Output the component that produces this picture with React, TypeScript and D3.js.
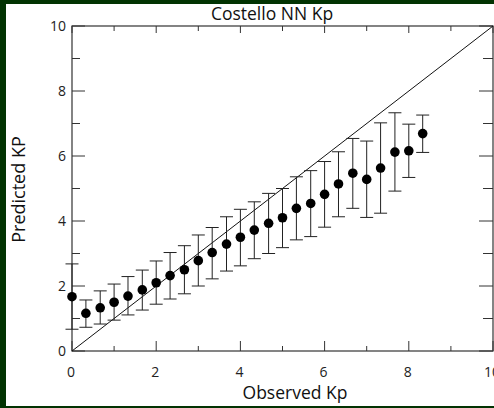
import React from "react";
import * as d3 from "d3";

// Observed Kp bins (Kp thirds) and network predictions with spread bounds
const observedKp = [0, 0.33, 0.67, 1, 1.33, 1.67, 2, 2.33, 2.67, 3, 3.33, 3.67, 4, 4.33, 4.67, 5, 5.33, 5.67, 6, 6.33, 6.67, 7, 7.33, 7.67, 8, 8.33];
const predictedKp = [1.67, 1.16, 1.33, 1.5, 1.69, 1.88, 2.1, 2.32, 2.5, 2.78, 3.03, 3.29, 3.5, 3.72, 3.93, 4.1, 4.39, 4.54, 4.82, 5.14, 5.47, 5.28, 5.63, 6.12, 6.16, 6.69];
const upperKp = [2.68, 1.57, 1.85, 2.06, 2.29, 2.49, 2.77, 3.03, 3.24, 3.57, 3.8, 4.13, 4.36, 4.59, 4.85, 5.0, 5.36, 5.55, 5.83, 6.13, 6.54, 6.46, 7.02, 7.33, 6.98, 7.26];
const lowerKp = [0.67, 0.73, 0.83, 0.95, 1.11, 1.26, 1.44, 1.6, 1.76, 2.0, 2.22, 2.46, 2.62, 2.84, 3.0, 3.18, 3.42, 3.52, 3.81, 4.13, 4.39, 4.11, 4.24, 4.92, 5.34, 6.11];
const majorTicks = [0, 2, 4, 6, 8, 10];
const minorTicks = [1, 3, 5, 7, 9];

const W = 494;
const H = 408;
const FONT = "'Open Sans', sans-serif";

export default function App() {
  const x = d3.scaleLinear().domain([0, 10]).range([72, 493]);
  const y = d3.scaleLinear().domain([0, 10]).range([351, 26]);
  const [x0, x1] = x.range();
  const [y0, y1] = y.range();
  const capHalf = 6.5;
  const axisColor = "#333";

  return (
    <svg width={W} height={H} style={{ position: "fixed", left: 0, top: 0 }} fontFamily={FONT}>
      <rect x={0} y={0} width={W} height={H} fill="#023302" />
      <rect x={6} y={4} width={W - 6} height={402} fill="#ffffff" />

      {/* frame */}
      <rect x={x0} y={y1} width={x1 - x0} height={y0 - y1} fill="none" stroke={axisColor} strokeWidth={1.2} />

      {/* ticks, pointing inward on every side */}
      {majorTicks.map((t) => (
        <g key={"M" + t} stroke={axisColor} strokeWidth={1}>
          <line x1={x(t)} x2={x(t)} y1={y0} y2={y0 - 10} />
          <line x1={x(t)} x2={x(t)} y1={y1} y2={y1 + 7} />
          <line x1={x0} x2={x0 + 13} y1={y(t)} y2={y(t)} />
          <line x1={x1} x2={x1 - 14} y1={y(t)} y2={y(t)} />
        </g>
      ))}
      {minorTicks.map((t) => (
        <g key={"m" + t} stroke={axisColor} strokeWidth={1}>
          <line x1={x(t)} x2={x(t)} y1={y0} y2={y0 - 5} />
          <line x1={x(t)} x2={x(t)} y1={y1} y2={y1 + 5} />
          <line x1={x0} x2={x0 + 8} y1={y(t)} y2={y(t)} />
          <line x1={x1} x2={x1 - 10} y1={y(t)} y2={y(t)} />
        </g>
      ))}

      {/* tick labels */}
      {majorTicks.map((t) => (
        <text key={"xl" + t} x={x(t) - 1} y={377} fontSize={14} textAnchor="middle" fill="#222">
          {t}
        </text>
      ))}
      {majorTicks.map((t) => (
        <text key={"yl" + t} x={66} y={y(t) + 5} fontSize={14} textAnchor="end" fill="#222">
          {t}
        </text>
      ))}

      {/* perfect-prediction diagonal */}
      <line x1={x(0)} y1={y(0)} x2={x(10)} y2={y(10)} stroke="#111" strokeWidth={1} />

      {/* spread bars */}
      {observedKp.map((o, i) => (
        <g key={"e" + i} stroke="#222" strokeWidth={1}>
          <line x1={x(o)} x2={x(o)} y1={y(lowerKp[i])} y2={y(upperKp[i])} />
          <line x1={x(o) - capHalf} x2={x(o) + capHalf} y1={y(upperKp[i])} y2={y(upperKp[i])} />
          <line x1={x(o) - capHalf} x2={x(o) + capHalf} y1={y(lowerKp[i])} y2={y(lowerKp[i])} />
        </g>
      ))}

      {/* mean predictions */}
      {observedKp.map((o, i) => (
        <circle key={"p" + i} cx={x(o)} cy={y(predictedKp[i])} r={4.8} fill="#000" />
      ))}

      {/* titles */}
      <text x={272} y={20} fontSize={17.5} textAnchor="middle" fill="#111">
        Costello NN Kp
      </text>
      <text x={295} y={399} fontSize={17.5} textAnchor="middle" fill="#111">
        Observed Kp
      </text>
      <text transform={`translate(25,${(y0 + y1) / 2 + 1}) rotate(-90)`} fontSize={18} textAnchor="middle" fill="#111">
        Predicted KP
      </text>
    </svg>
  );
}
